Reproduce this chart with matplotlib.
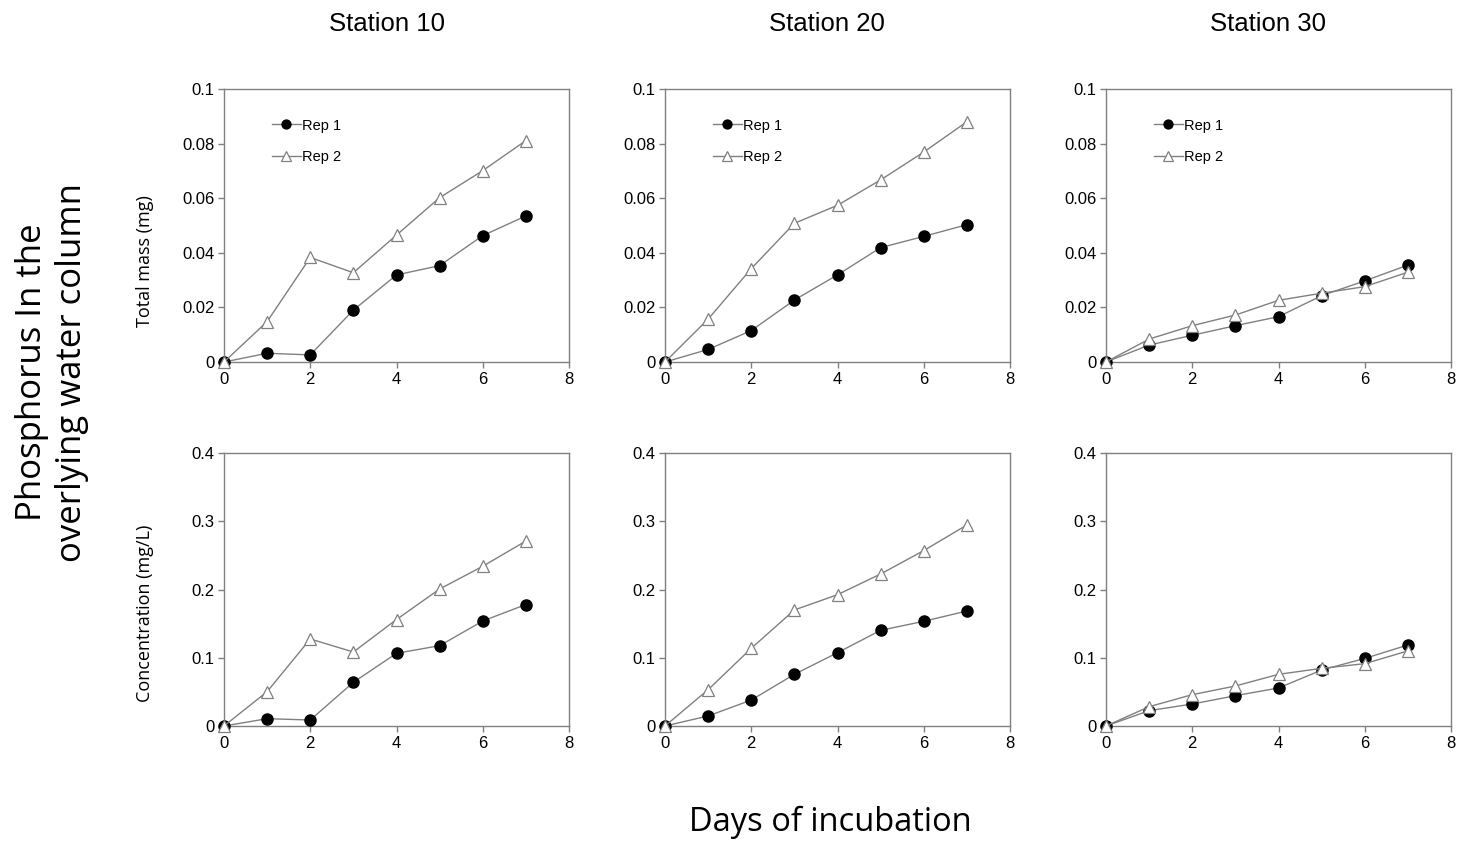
import numpy as np
import matplotlib
matplotlib.use("Agg")
import matplotlib.pyplot as plt

# Days of incubation
days = [0, 1, 2, 3, 4, 5, 6, 7]
stations = ["Station 10", "Station 20", "Station 30"]

# Total mass of P in overlying water (mg)
mass_rep1 = {
    "Station 10": [0, 0.0032, 0.0026, 0.0190, 0.0319, 0.0353, 0.0463, 0.0535],
    "Station 20": [0, 0.0046, 0.0115, 0.0227, 0.0319, 0.0419, 0.0460, 0.0503],
    "Station 30": [0, 0.0062, 0.0098, 0.0133, 0.0166, 0.0243, 0.0297, 0.0355],
}
mass_rep2 = {
    "Station 10": [0, 0.0148, 0.0383, 0.0327, 0.0465, 0.0602, 0.0701, 0.0811],
    "Station 20": [0, 0.0157, 0.0342, 0.0508, 0.0574, 0.0667, 0.0769, 0.0880],
    "Station 30": [0, 0.0084, 0.0133, 0.0172, 0.0226, 0.0252, 0.0276, 0.0329],
}

# Concentration in overlying water (mg/L)
conc_rep1 = {
    "Station 10": [0, 0.0107, 0.0088, 0.0640, 0.1065, 0.1177, 0.1538, 0.1780],
    "Station 20": [0, 0.0147, 0.0380, 0.0757, 0.1074, 0.1402, 0.1534, 0.1685],
    "Station 30": [0, 0.0225, 0.0322, 0.0444, 0.0557, 0.0820, 0.0990, 0.1187],
}
conc_rep2 = {
    "Station 10": [0, 0.0503, 0.1275, 0.1084, 0.1560, 0.2007, 0.2340, 0.2710],
    "Station 20": [0, 0.0532, 0.1138, 0.1700, 0.1924, 0.2227, 0.2570, 0.2945],
    "Station 30": [0, 0.0283, 0.0459, 0.0586, 0.0757, 0.0845, 0.0913, 0.1100],
}

W, H = 1460, 843
fig = plt.figure(figsize=(W / 100, H / 100), dpi=100)

lefts = [224, 665, 1106]
title_x = [387, 827, 1268]
ax_w = 345
ax_h = 273
tops = [89, 453]

line_kw = dict(color="#808080", linewidth=1.0)
tick_font = dict(family="Liberation Sans", size=12)
label_font = "Open Sans"


def style_axes(ax, ymax, ystep):
    xt = np.arange(0, 9, 2)
    yt = np.round(np.arange(0, ymax + ystep / 2, ystep), 3)
    ax.set_xlim(0, 8)
    ax.set_ylim(0, ymax)
    ax.set_xticks(xt)
    ax.set_yticks(yt)
    ax.set_xticklabels([f"{t:g}" for t in xt], **tick_font)
    ax.set_yticklabels([f"{t:g}" for t in yt], **tick_font)
    for s in ax.spines.values():
        s.set_color("#808080")
        s.set_linewidth(1.0)
    ax.tick_params(direction="out", length=4, width=1.0, color="#808080",
                   labelcolor="black", pad=3)


for row in range(2):
    for col, st in enumerate(stations):
        ax = fig.add_axes([lefts[col] / W, 1 - (tops[row] + ax_h) / H, ax_w / W, ax_h / H])
        if row == 0:
            r1, r2 = mass_rep1[st], mass_rep2[st]
        else:
            r1, r2 = conc_rep1[st], conc_rep2[st]
        ax.plot(days, r1, marker="o", markersize=8, markerfacecolor="black",
                markeredgecolor="black", label="Rep 1", clip_on=False, zorder=3, **line_kw)
        ax.plot(days, r2, marker="^", markersize=9, markerfacecolor="white",
                markeredgecolor="#808080", markeredgewidth=0.9, label="Rep 2",
                clip_on=False, zorder=4, **line_kw)
        if row == 0:
            style_axes(ax, 0.1, 0.02)
            ax.legend(loc="upper left", bbox_to_anchor=(0.1, 0.94), frameon=False,
                      handlelength=2.0, handletextpad=0.1, labelspacing=1.2,
                      markerscale=0.8, prop=dict(family="Liberation Sans", size=10.5))
            fig.text(title_x[col] / W, 1 - 24 / H, st, ha="center", va="center",
                     fontsize=18.5, family="Liberation Sans")
        else:
            style_axes(ax, 0.4, 0.1)

fig.text(145 / W, 1 - 261 / H, "Total mass (mg)", rotation=90, ha="center", va="center",
         fontsize=13, family=label_font)
fig.text(145 / W, 1 - 613 / H, "Concentration (mg/L)", rotation=90, ha="center",
         va="center", fontsize=13, family=label_font)
fig.text(52 / W, 1 - 372 / H, "Phosphorus In the\noverlying water column", rotation=90,
         ha="center", va="center", fontsize=25, family=label_font, linespacing=1.22)
fig.text(830 / W, 1 - 822 / H, "Days of incubation", ha="center", va="center",
         fontsize=23.5, family=label_font)

fig.savefig("out.png", dpi=100)
